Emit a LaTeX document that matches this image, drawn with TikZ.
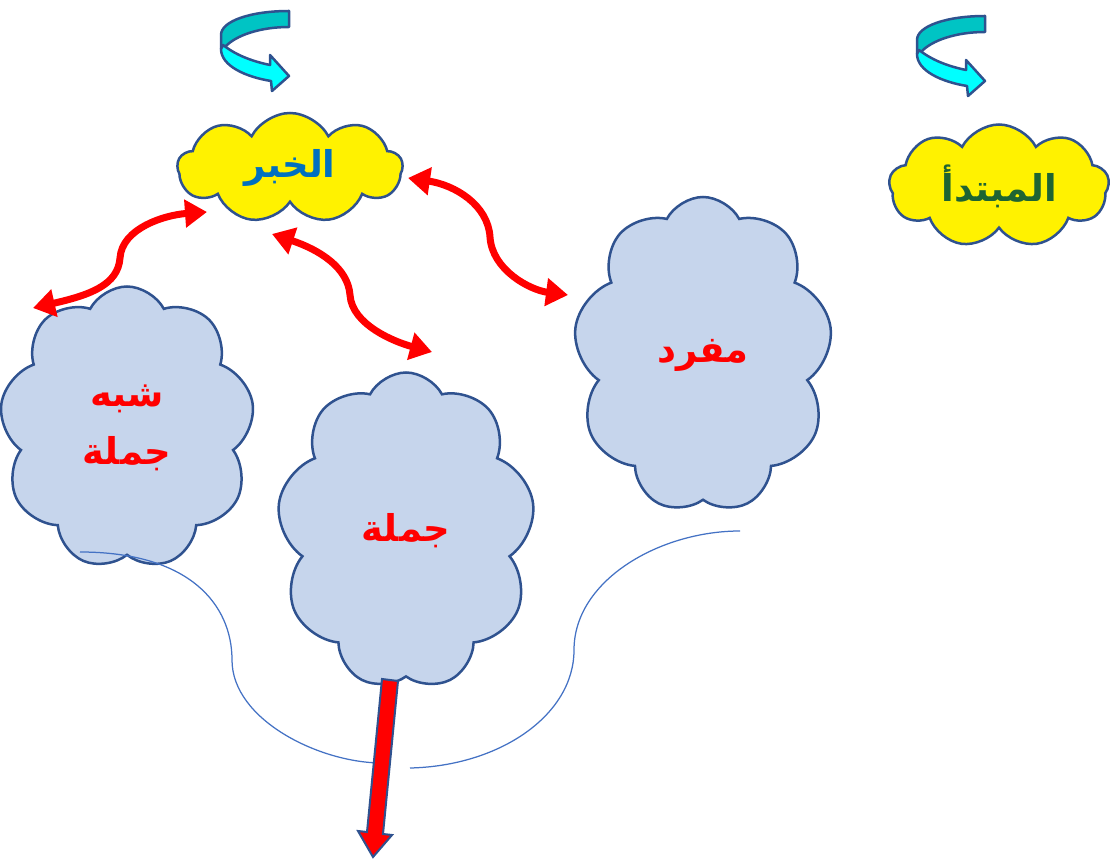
\documentclass[tikz,border=0pt]{standalone}
\usepackage{fontspec}
\usetikzlibrary{shapes.symbols,arrows.meta}
\newfontfamily\arabicfont[Script=Arabic]{DejaVu Sans}
\TeXXeTstate=1
\definecolor{edge}{RGB}{47,82,143}
\definecolor{skyfill}{RGB}{198,213,236}
\definecolor{khabarblue}{RGB}{0,112,192}
\definecolor{mubtadagreen}{RGB}{30,100,50}
\definecolor{ribbonback}{RGB}{0,196,196}
\definecolor{ribbonfront}{RGB}{0,255,255}
\definecolor{thinline}{RGB}{68,114,196}

\tikzset{
  puff/.style={cloud, cloud puffs=9, cloud puff arc=125, cloud ignores aspect,
    draw=edge, line width=0.5mm, inner sep=0pt, align=center,
    font=\arabicfont\bfseries\fontsize{21}{33}\selectfont},
  yellowpuff/.style={puff, fill=yellow},
  bluepuff/.style={puff, fill=skyfill, text=red},
  link/.style={red, line width=1.4mm,
    {Triangle[length=4.4mm,width=5.4mm]}-{Triangle[length=4.4mm,width=5.4mm]}},
  pics/uturn/.style={code={
    \draw[edge, line width=0.5mm, line join=round, fill=ribbonback]
      (68,0) .. controls (30,0) and (0,10) .. (0,24) -- (0,38) -- (4,36)
      .. controls (15,24) and (40,16) .. (68,16) -- cycle;
    \draw[edge, line width=0.5mm, line join=round, fill=ribbonfront]
      (2,34) .. controls (15,44) and (30,50) .. (49,54) -- (49,44) -- (68,65)
      -- (51,80) -- (50,70) .. controls (25,66) and (0,55) .. (0,38) -- cycle;
  }}
}

\begin{document}
\begin{tikzpicture}[x=0.2mm, y=-0.2mm]
        \useasboundingbox (0,0) rectangle (1110,859);

        \node[yellowpuff, text=khabarblue, minimum width=45mm, minimum height=22mm] (khabar) at (290,168) {\beginR الخبر\endR};
        \node[yellowpuff, text=mubtadagreen, minimum width=44mm, minimum height=24.6mm] (mubtada) at (999,186) {\beginR المبتدأ\endR};

        \node[bluepuff, minimum width=51mm, minimum height=56.6mm] (shibh) at (127,428) {\beginR شبه\endR\\\beginR جملة\endR};
        \node[bluepuff, minimum width=51.6mm, minimum height=63.4mm] (jumla) at (406,531) {\beginR جملة\endR};
        \node[bluepuff, minimum width=51.8mm, minimum height=63.2mm] (mufrad) at (703,355) {\beginR مفرد\endR};

        \pic at (221,11) {uturn};
        \pic at (917,16) {uturn};

        % thin curve under the clouds
        \draw[thinline, line width=0.25mm] (80,552) .. controls (190,552) and (232,605) .. (232,660)
          .. controls (232,720) and (320,763) .. (382,763);
        \draw[thinline, line width=0.25mm] (410,768) .. controls (500,766) and (574,715) .. (574,650)
          .. controls (574,580) and (660,531) .. (740,531);

        \coordinate (s1) at (33,308);
        \coordinate (e1) at (207,212);
        \coordinate (s2) at (272,234);
        \coordinate (e2) at (432,352);
        \coordinate (s3) at (408,178);
        \coordinate (e3) at (568,295);
        \draw[link] (s1) .. controls (90,295) and (118,285) .. (120,258) .. controls (122,228) and (165,215) .. (e1);
        \draw[link] (s2) .. controls (320,250) and (348,268) .. (350,295) .. controls (352,325) and (395,342) .. (e2);
        \draw[link] (s3) .. controls (455,185) and (488,205) .. (490,237) .. controls (492,270) and (530,290) .. (e3);

        \filldraw[fill=red, draw=edge, line width=0.4mm] (382,679) -- (398,681) -- (383,834) -- (392,835)
          -- (373,857) -- (358,831) -- (367,832) -- cycle;
\end{tikzpicture}
\end{document}
